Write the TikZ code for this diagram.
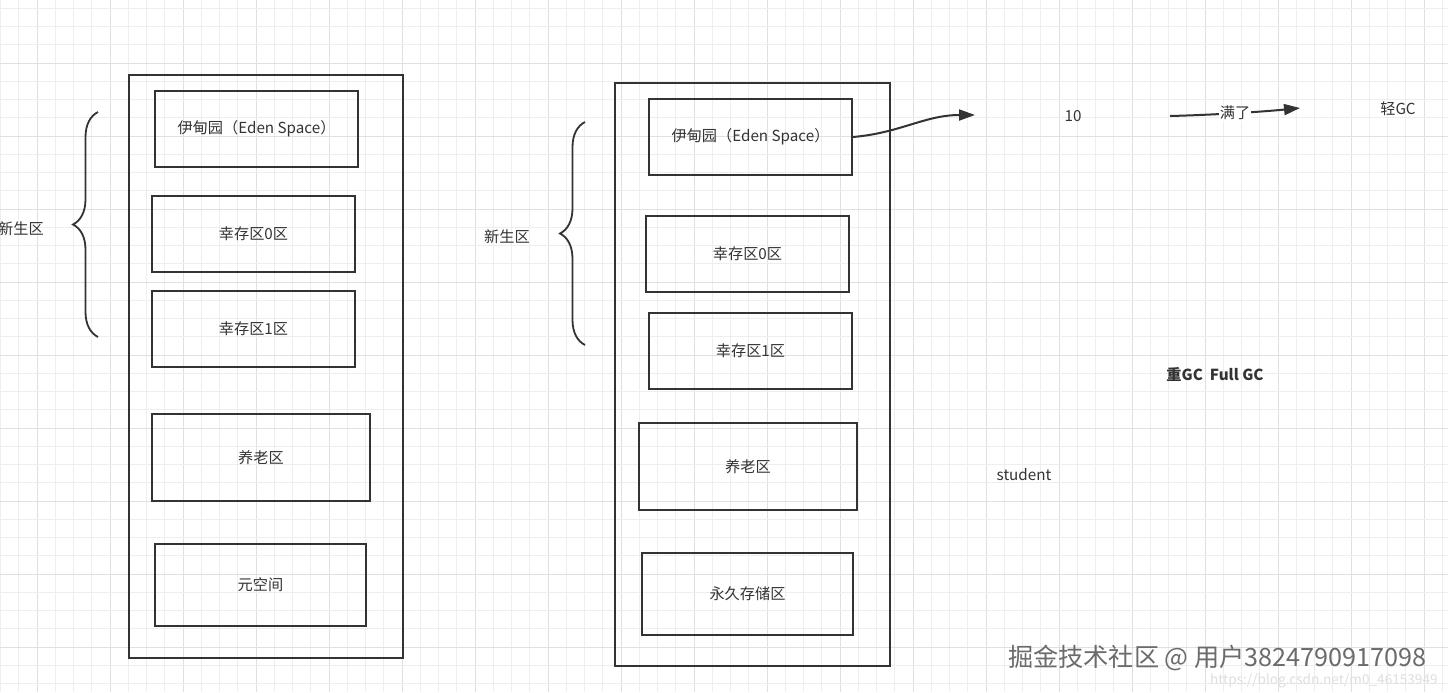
\documentclass[tikz,border=0pt]{standalone}
\usepackage{fontspec}
\setmainfont{Noto Sans CJK SC}
\usetikzlibrary{arrows.meta,decorations.pathreplacing}
\definecolor{ink}{HTML}{333333}
\definecolor{gridminor}{HTML}{EEEEEE}
\definecolor{gridmajor}{HTML}{E0E0E0}
\tikzset{
  x=0.5pt,y=-0.5pt,
  outerbox/.style={draw=ink,line width=1.1pt,minimum width=#1,inner sep=0pt},
  region/.style={draw=ink,line width=0.9pt,inner sep=0pt,font=\fontsize{7.6pt}{9pt}\selectfont,text=ink},
  lbl/.style={font=\fontsize{7.6pt}{9pt}\selectfont,text=ink,inner sep=1pt},
  curly/.style={draw=ink,line width=0.9pt,decorate,decoration={brace,amplitude=12.5pt,aspect=0.5}},
  conn/.style={draw=ink,line width=1pt,-{Triangle[length=8pt,width=5.5pt]}},
}
\begin{document}
\begin{tikzpicture}
\useasboundingbox (0,0) rectangle (1448,692);
\fill[white] (0,0) rectangle (1448,692);
% grid
\foreach \k in {0,...,79}{
  \pgfmathsetmacro{\xx}{0.5+18.25*\k}
  \pgfmathtruncatemacro{\m}{mod(\k,4)}
  \ifnum\m=2 \draw[gridmajor,line width=0.5pt] (\xx,0) -- (\xx,692);
  \else \draw[gridminor,line width=0.5pt] (\xx,0) -- (\xx,692); \fi
}
\foreach \k in {0,...,38}{
  \pgfmathsetmacro{\yy}{8.25+18.25*\k}
  \pgfmathtruncatemacro{\m}{mod(\k,4)}
  \ifnum\m=3 \draw[gridmajor,line width=0.5pt] (0,\yy) -- (1448,\yy);
  \else \draw[gridminor,line width=0.5pt] (0,\yy) -- (1448,\yy); \fi
}

% ---- left heap ----
\node[outerbox=137pt,minimum height=291.5pt] (L) at (266,366.5) {};
\node[region,minimum width=101.5pt,minimum height=38pt] (Leden) at (256.5,129) {伊甸园（Eden Space）};
\node[region,minimum width=101.5pt,minimum height=38pt] (Ls0) at (253.5,234) {幸存区0区};
\node[region,minimum width=101.5pt,minimum height=38pt] (Ls1) at (253.5,329) {幸存区1区};
\node[region,minimum width=109pt,minimum height=43.5pt] (Lold) at (261,457.5) {养老区};
\node[region,minimum width=105.5pt,minimum height=41pt] (Lmeta) at (260.5,585) {元空间};
\coordinate (Lbt) at (98,112);
\coordinate (Lbb) at (98,337);
\draw[curly] (Lbb) -- (Lbt);
\node[lbl] (Lyoung) at (21,229) {新生区};

% ---- right heap ----
\node[outerbox=137.5pt,minimum height=291.5pt] (R) at (752.5,374.5) {};
\node[region,minimum width=101.5pt,minimum height=38pt] (Reden) at (750.5,137) {伊甸园（Eden Space）};
\node[region,minimum width=101.5pt,minimum height=38pt] (Rs0) at (747.5,254) {幸存区0区};
\node[region,minimum width=101.5pt,minimum height=38pt] (Rs1) at (750.5,351) {幸存区1区};
\node[region,minimum width=109pt,minimum height=43.5pt] (Rold) at (748,466.5) {养老区};
\node[region,minimum width=105.5pt,minimum height=41pt] (Rperm) at (747.5,594) {永久存储区};
\coordinate (Rbt) at (585,122);
\coordinate (Rbb) at (585,345);
\draw[curly] (Rbb) -- (Rbt);
\node[lbl] (Ryoung) at (507,237) {新生区};

% ---- right-hand notes ----
\coordinate (a1end) at (975,115);
\draw[conn] (Reden.east) .. controls (900,133) and (925,115) .. (a1end);
\node[lbl] (ten) at (1073,116) {10};
\coordinate (a2start) at (1170,116);
\coordinate (a2end) at (1300,108);
\draw[conn] (a2start) .. controls (1210,115) and (1260,112) .. node[lbl,fill=white,inner sep=0.5pt,pos=0.5] (full) {满了} (a2end);
\node[lbl] (minor) at (1398,109) {轻GC};
\node[lbl,font=\fontsize{7.6pt}{9pt}\bfseries\selectfont] (major) at (1215,374) {重GC\ \ Full GC};
\node[lbl] (student) at (1024,475) {student};

% ---- watermarks ----
\node[text=black!13,font=\fontsize{6.8pt}{8pt}\selectfont,anchor=east,inner sep=0pt] (csdn) at (1438,681) {https://blog.csdn.net/m0\_46153949};
\node[text=black!58,font=\fontsize{12.6pt}{14pt}\selectfont,anchor=east,inner sep=0pt] (wm) at (1427,657.5) {掘金技术社区 @ 用户3824790917098};
\end{tikzpicture}
\end{document}
